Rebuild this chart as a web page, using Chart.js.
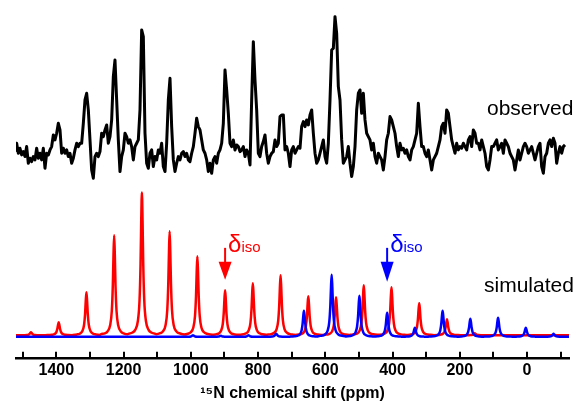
<!DOCTYPE html>
<html>
<head>
<meta charset="utf-8">
<script src="https://cdn.jsdelivr.net/npm/chart.js@4/dist/chart.umd.min.js"></script>
<style>
  body { margin: 0; background: #fff; }
</style>
</head>
<body>
<canvas id="myChart" width="582" height="403"></canvas>
<script>
// x axis ticks (ppm)
var tickValues = [1500, 1400, 1300, 1200, 1100, 1000, 900, 800, 700, 600, 500, 400, 300, 200, 100, 0, -100];
var labelValues = [1400, 1200, 1000, 800, 600, 400, 200, 0];

// simulated spinning sideband peaks (ppm, height)
var redPeakPpm = [1475.5, 1393, 1310.5, 1228, 1145.5, 1063, 980.5, 898, 815.5, 733, 650.5, 568, 485.5, 403, 320.5, 238, 155.5];
var redPeakHeight = [3, 13, 43, 100, 143, 104, 79, 45, 52, 60, 39, 38, 50, 48, 32, 16, 2];
var bluePeakPpm = [993.5, 911, 828.5, 746, 663.5, 581, 498.5, 416, 333.5, 251, 168.5, 86, 3.5, -79];
var bluePeakHeight = [1.5, 1, 1.5, 3, 26, 62, 41, 24, 9, 26, 18, 19, 9, 3];

// shape of one line (offset in ppm, fraction of peak height)
var lineOffset = [-40, -28, -20, -12, -7, -4, -2, 0, 2, 4, 7, 12, 20, 28, 40];
var lineFactor = [0.01, 0.02, 0.038, 0.1, 0.246, 0.5, 0.8, 1, 0.8, 0.5, 0.246, 0.1, 0.038, 0.02, 0.01];

// isotropic shifts
var redIso = 898;
var blueIso = 416;

// observed spectrum, sampled from 1523 ppm downward
var observedStart = 1523;
var observedStep = -4.958;
var observedValues = [
  5, 30, 0, 15, -5, 5, -10, 20, -30, -15, -25, -10, -20, 15, -15, 0, -20, 15, -45, 0,
  -5, 10, 20, 55, 40, 60, 90, 70, 0, 15, 0, 10, -10, 0, -30, -15, 10, 30, 20, 30,
  30, 90, 160, 180, 130, 40, -50, -75, -10, 0, -10, 5, 60, 50, 70, 85, 30, 50, 100, 230,
  280, 160, 40, -55, -10, 10, 60, 50, 30, 40, 20, -20, 20, 30, 40, 130, 370, 350, 60, -30,
  -45, 0, 10, -40, -10, -20, 10, 0, 30, -40, -55, 30, 160, 225, 80, -20, -55, -30, -10, -20,
  0, 5, -10, 0, -20, -25, 0, 20, 60, 105, 80, 70, 40, 10, 0, -20, -55, -30, -60, -20,
  -10, -30, 0, 10, 30, 90, 250, 190, 120, 30, 20, 40, 10, 25, 20, 5, 10, 20, -10, 10,
  0, -35, 160, 335, 220, 130, 0, -10, 20, 35, 55, 0, -30, -10, 0, 5, 40, 20, 30, 110,
  115, 115, 10, 20, 0, -40, 10, 20, 0, 10, 20, 15,
  80, 95, 80, 100, 85, 115, 130, 60, 0, -30, -20, 0, 20, 40, -10, -30, 30, 160, 310, 315,
  410, 360, 200, 160, 40, -30, -20, -10, 20, -30, -70, -40, 20, 130, 180, 190, 120, 180, 100, 60,
  50, 40, 10, 30, -10, -30, 0, -10, -20, -50, -10, 40, 60, 110, 100, 80, 60, 20, -10, 30,
  10, 15, 0, 10, -10, -20, 10, 20, 40, 60, 150, 80, 20, 20, 0, -10, 10, -20, -50, -20,
  -10, 0, 20, 40, 80, 90, 60, 130, 120, 80, 40, 20, 0, 30, 10, 20, 15, 30, 20, 10,
  40, 50, 20, 70, 60, 30, 30, 10, 40, 20, 0, -40, -50, -20, 20, 20, 30, 40, 10, 20,
  30, 0, 40, 30, 20, 0, -10, -20, -50, -20, 10, -20, 0, 20, 30, 20, 0, 10, 20, 0,
  -20, 0, 20, 30, -40, -60, -10, 0, 30, 40, 20, 45, 30, -30, 0, 20, 0, 20, 25
];

function buildPeaks(ppm, height, base) {
  var pts = [{ x: 1520, y: base }, { x: -125, y: base }];
  for (var i = 0; i < ppm.length; i++) {
    for (var j = 0; j < lineOffset.length; j++) {
      pts.push({ x: ppm[i] + lineOffset[j], y: base + height[i] * lineFactor[j] });
    }
  }
  pts.sort(function (a, b) { return b.x - a.x; });
  return pts;
}

var observedPoints = observedValues.map(function (v, i) {
  return { x: observedStart + i * observedStep, y: v };
});

var FONT = '"Liberation Sans", Arial, Helvetica, sans-serif';
Chart.defaults.font.family = FONT;
Chart.defaults.color = '#000';

var decorations = {
  id: 'decorations',
  afterDraw: function (chart) {
    var ctx = chart.ctx;
    var xs = chart.scales.x;
    var ys = chart.scales.y;
    var bottom = chart.chartArea.bottom;
    ctx.save();
    // inward tick marks
    ctx.strokeStyle = '#000';
    ctx.lineWidth = 2;
    xs.ticks.forEach(function (t) {
      var px = Math.round(xs.getPixelForValue(t.value));
      ctx.beginPath();
      ctx.moveTo(px, bottom);
      ctx.lineTo(px, bottom - 6);
      ctx.stroke();
    });

    // delta iso arrows
    function arrow(ppm, color, tipH) {
      var px = xs.getPixelForValue(ppm);
      var top = ys.getPixelForValue(89);
      var headTop = ys.getPixelForValue(75);
      var tip = ys.getPixelForValue(tipH);
      ctx.strokeStyle = color;
      ctx.fillStyle = color;
      ctx.lineWidth = 2;
      ctx.beginPath();
      ctx.moveTo(px, top);
      ctx.lineTo(px, headTop + 1);
      ctx.stroke();
      ctx.beginPath();
      ctx.moveTo(px - 6.5, headTop);
      ctx.lineTo(px + 6.5, headTop);
      ctx.lineTo(px, tip);
      ctx.closePath();
      ctx.fill();
      // label
      ctx.textBaseline = 'alphabetic';
      ctx.textAlign = 'left';
      ctx.font = '24px ' + FONT;
      ctx.fillText('δ', px + 3, top + 4);
      var w = ctx.measureText('δ').width;
      ctx.font = '15px ' + FONT;
      ctx.fillText('iso', px + 3 + w, top + 4);
    }
    arrow(redIso, '#ff0000', 57);
    arrow(blueIso, '#0000ff', 55);

    ctx.fillStyle = '#000';
    ctx.font = '21px ' + FONT;
    ctx.textAlign = 'left';
    ctx.fillText('observed', 487, 115);
    ctx.fillText('simulated', 484, 292);
    ctx.restore();
  }
};

var ctx = document.getElementById('myChart').getContext('2d');
var chart = new Chart(ctx, {
  type: 'line',
  data: {
    datasets: [
      {
        label: 'simulated (blue)',
        data: buildPeaks(bluePeakPpm, bluePeakHeight, 0),
        borderColor: '#0000ff',
        borderWidth: 2.5,
        borderJoinStyle: 'round',
        cubicInterpolationMode: 'monotone',
        pointRadius: 0,
        yAxisID: 'y',
        order: 1
      },
      {
        label: 'simulated (red)',
        data: buildPeaks(redPeakPpm, redPeakHeight, 1.5),
        borderColor: '#ff0000',
        borderWidth: 2.5,
        borderJoinStyle: 'round',
        cubicInterpolationMode: 'monotone',
        pointRadius: 0,
        yAxisID: 'y',
        order: 2
      },
      {
        label: 'observed',
        data: observedPoints,
        borderColor: '#000',
        borderWidth: 3,
        borderJoinStyle: 'round',
        pointRadius: 0,
        yAxisID: 'y2',
        order: 3
      }
    ]
  },
  options: {
    responsive: false,
    animation: false,
    layout: { padding: { left: 16, right: 13, top: 5, bottom: 0 } },
    plugins: {
      legend: { display: false },
      tooltip: { enabled: false }
    },
    scales: {
      x: {
        type: 'linear',
        reverse: true,
        min: -125,
        max: 1520,
        afterBuildTicks: function (scale) {
          scale.ticks = tickValues.map(function (v) { return { value: v }; });
        },
        grid: { display: false, drawTicks: false },
        border: { display: true, color: '#000', width: 2.5 },
        ticks: {
          autoSkip: false,
          maxRotation: 0,
          padding: 5,
          color: '#000',
          font: { size: 16, weight: 'bold', lineHeight: 1 },
          callback: function (v) { return labelValues.indexOf(v) >= 0 ? String(v) : ''; }
        },
        title: {
          display: true,
          text: '¹⁵N chemical shift (ppm)',
          color: '#000',
          font: { size: 16, weight: 'bold' },
          padding: { top: 0, bottom: 0 }
        }
      },
      y: { display: false, min: -21, max: 332 },
      y2: { display: false, min: -614, max: 445 }
    }
  },
  plugins: [decorations]
});
</script>
</body>
</html>
